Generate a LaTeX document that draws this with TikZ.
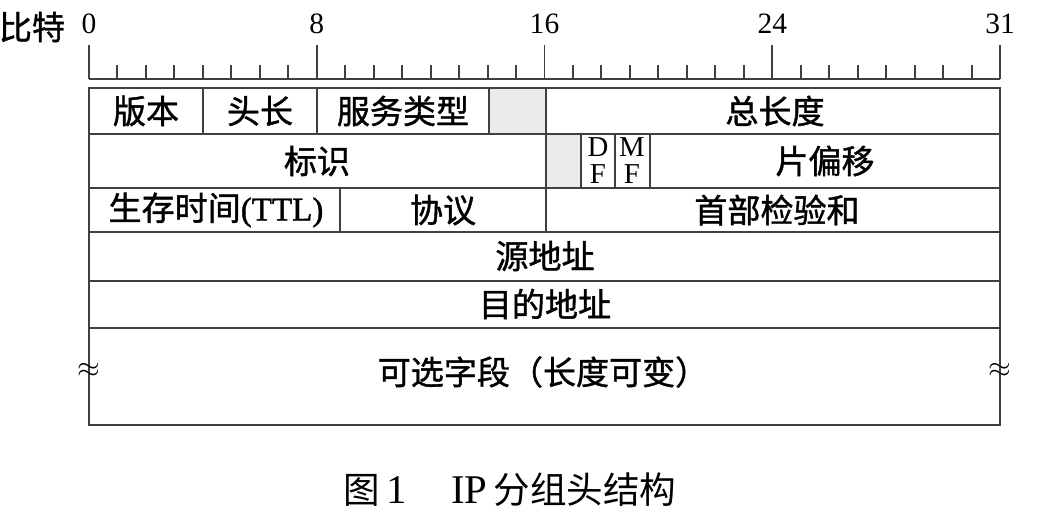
\documentclass[tikz,border=0pt]{standalone}
\usepackage{fontspec}
\setmainfont{Liberation Serif}
\newfontfamily\cjk{Noto Sans CJK SC}
\newfontfamily\cjkbold[FakeBold=1.2]{Noto Sans CJK SC}
\newfontfamily\latinbold[FakeBold=1.2]{Liberation Serif}
\usetikzlibrary{positioning}

\tikzset{
  gridline/.style={line width=1.4pt, black!75},
  field/.style={font=\fontsize{23.5}{27}\selectfont\cjkbold, inner sep=0pt},
  bitnum/.style={font=\fontsize{21}{22}\selectfont, inner sep=0pt},
  flag/.style={font=\fontsize{20.5}{21}\selectfont, inner sep=0pt},
  wave/.style={font=\fontsize{20}{20}\selectfont, inner sep=0pt},
  reserved/.style={fill=black!8},
}

\begin{document}
\begin{tikzpicture}[x=0.025cm,y=-0.025cm]
    \useasboundingbox (0,0) rectangle (1044,528);

    %% Bit ruler
    \node[field] (bits) at (32,27) {比特};
    \draw[gridline] (89,79) -- (1000,79);
    \foreach \i in {1,...,31}
        \draw[gridline] ({89+\i*28.469},79) -- ++(0,-14);
    \foreach \i/\lab in {0/0,8/8,16/16,24/24,32/31}{
        \draw[gridline] ({89+\i*28.469},79) -- ++(0,-34);
        \node[bitnum] (b\lab) at ({89+\i*28.469},24) {\lab};
    }

    %% Reserved bits
    \fill[reserved] (489,88) rectangle (546,134);
    \fill[reserved] (546,134) rectangle (581,188);

    %% Header frame
    \draw[gridline] (89,88) rectangle (1000,425);
    \foreach \y in {134,188,232,281,328}
        \draw[gridline] (89,\y) -- (1000,\y);
    \foreach \x in {203,317,489,546}
        \draw[gridline] (\x,88) -- (\x,134);
    \foreach \x in {546,581,615,650}
        \draw[gridline] (\x,134) -- (\x,188);
    \foreach \x in {340,546}
        \draw[gridline] (\x,188) -- (\x,232);

    %% Fields
    \node[field] (ver)   at (146,111) {版本};
    \node[field] (ihl)   at (260,111) {头长};
    \node[field] (tos)   at (403,111) {服务类型};
    \node[field] (len)   at (775,111) {总长度};
    \node[field] (ident) at (317,161) {标识};
    \node[flag]  (dfd)   at (598,147) {D};
    \node[flag]  (dff)   at (598,174) {F};
    \node[flag]  (mfm)   at (632,147) {M};
    \node[flag]  (mff)   at (632,174) {F};
    \node[field] (frag)  at (825,161) {片偏移};
    \node[field] (ttl)   at (216,210) {生存时间{\latinbold(TTL)}};
    \node[field] (proto) at (443,210) {协议};
    \node[field] (csum)  at (777,210) {首部检验和};
    \node[field] (src)   at (545,256) {源地址};
    \node[field] (dst)   at (545,304) {目的地址};
    \node[field] (opt)   at (543,372) {可选字段（长度可变）};
    \node[wave] (wl) at (89,370) {$\approx$};
    \node[wave] (wr) at (1000,370) {$\approx$};

    %% Caption
    \node[font=\fontsize{26}{30}\selectfont, inner sep=0pt] (cap) at (510,490)
        {{\cjk 图}\,{\fontsize{29}{30}\selectfont 1\hspace{1.1em}IP}\,{\cjk 分组头结构}};
\end{tikzpicture}
\end{document}
